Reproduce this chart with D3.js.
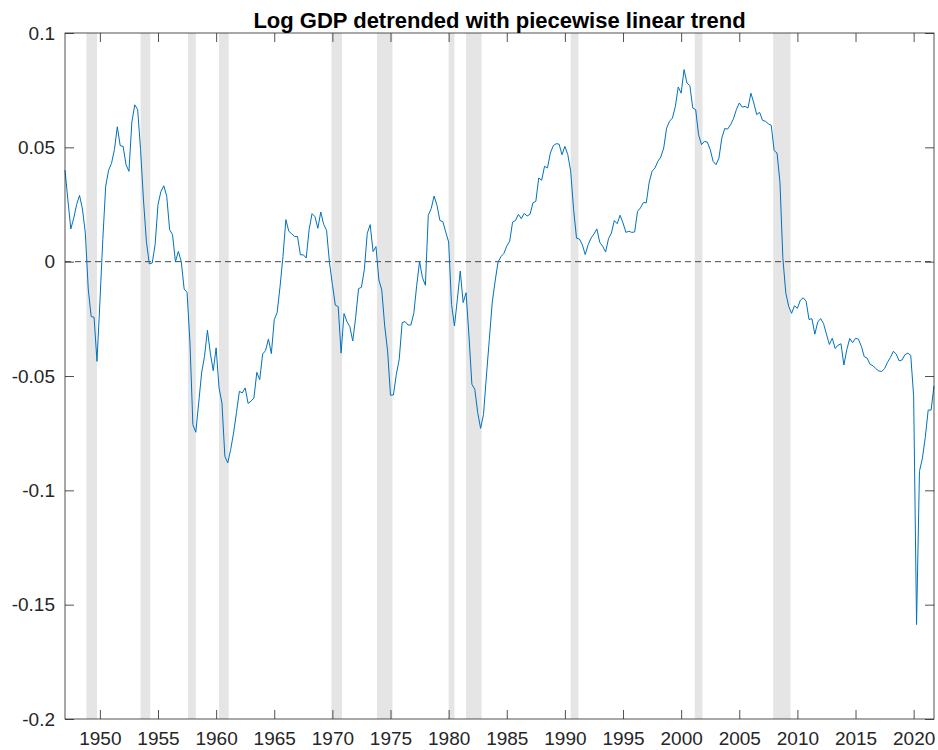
<!DOCTYPE html>
<html>
<head>
<meta charset="utf-8">
<script src="https://cdn.jsdelivr.net/npm/d3@7"></script>
<style>
  html, body { margin: 0; padding: 0; background: #fff; }
  svg { display: block; }
  text { font-family: "Liberation Sans", Arial, Helvetica, sans-serif; }
</style>
</head>
<body>
<svg id="chart" width="938" height="750"></svg>
<script>
// ---------------- DATA ----------------
const chartTitle = "Log GDP detrended with piecewise linear trend";
const startYear = 1947; // first quarter = 1947Q1, quarterly observations

// Detrended log GDP, quarterly, 1947Q1 .. 2021Q4
const gdpDetrended = [
  0.040, 0.027, 0.0143, 0.019,      // 1947
  0.025, 0.029, 0.023, 0.0125,      // 1948
  -0.012, -0.024, -0.0243, -0.0436, // 1949
  -0.018, 0.0096, 0.033, 0.040,     // 1950
  0.043, 0.049, 0.059, 0.0507,      // 1951
  0.0504, 0.0424, 0.0395, 0.061,    // 1952
  0.0686, 0.0665, 0.049, 0.027,     // 1953
  0.0089, -0.001, -0.0006, 0.0074,  // 1954
  0.025, 0.0307, 0.0332, 0.0286,    // 1955
  0.014, 0.0118, 0.0, 0.0045,       // 1956
  0.0, -0.012, -0.0134, -0.0356,    // 1957
  -0.0713, -0.0746, -0.0618, -0.0487, // 1958
  -0.0414, -0.030, -0.040, -0.0477, // 1959
  -0.0377, -0.0552, -0.0618, -0.0851, // 1960
  -0.088, -0.0822, -0.0749, -0.066, // 1961
  -0.0567, -0.0574, -0.0552, -0.062, // 1962
  -0.061, -0.0596, -0.0484, -0.0516, // 1963
  -0.0404, -0.0389, -0.0338, -0.0402, // 1964
  -0.0254, -0.0222, -0.0108, 0.0023, // 1965
  0.0184, 0.0133, 0.0122, 0.011,    // 1966
  0.011, 0.003, 0.003, 0.0016,      // 1967
  0.014, 0.021, 0.0197, 0.0146,     // 1968
  0.0217, 0.0163, 0.0137, -0.0004,  // 1969
  -0.0099, -0.019, -0.0197, -0.040, // 1970
  -0.0227, -0.0262, -0.0284, -0.0347, // 1971
  -0.0245, -0.0118, -0.0112, -0.0034, // 1972
  0.0124, 0.0162, 0.0044, 0.0066,   // 1973
  -0.008, -0.0124, -0.0281, -0.0391, // 1974
  -0.0584, -0.0583, -0.0493, -0.0427, // 1975
  -0.0267, -0.0262, -0.0277, -0.0277, // 1976
  -0.0227, -0.0106, 0.0001, -0.007, // 1977
  -0.0103, 0.0203, 0.0232, 0.0287,  // 1978
  0.0246, 0.018, 0.0175, 0.013,     // 1979
  0.0086, -0.0187, -0.0281, -0.0165, // 1980
  -0.0041, -0.0179, -0.0136, -0.0325, // 1981
  -0.0536, -0.0558, -0.066, -0.0729, // 1982
  -0.0668, -0.05, -0.034, -0.0179,  // 1983
  -0.0085, -0.0001, 0.0022, 0.0036, // 1984
  0.0068, 0.009, 0.0173, 0.018,     // 1985
  0.0207, 0.0188, 0.0211, 0.020,    // 1986
  0.0207, 0.0257, 0.0264, 0.0366,   // 1987
  0.0356, 0.0417, 0.041, 0.0475,    // 1988
  0.0507, 0.0516, 0.0514, 0.0468,   // 1989
  0.0504, 0.0468, 0.0395, 0.0227,   // 1990
  0.0103, 0.0099, 0.0074, 0.0031,   // 1991
  0.0074, 0.0103, 0.0121, 0.0143,   // 1992
  0.0085, 0.0067, 0.0042, 0.010,    // 1993
  0.0125, 0.018, 0.0166, 0.0203,    // 1994
  0.0169, 0.0128, 0.0133, 0.0128,   // 1995
  0.013, 0.022, 0.0235, 0.0259,     // 1996
  0.0257, 0.0347, 0.0395, 0.041,    // 1997
  0.0439, 0.0458, 0.0497, 0.0584,   // 1998
  0.0614, 0.0628, 0.0679, 0.0764,   // 1999
  0.0737, 0.084, 0.0781, 0.077,     // 2000
  0.0672, 0.0665, 0.0555, 0.0512,   // 2001
  0.0526, 0.0523, 0.049, 0.0439,    // 2002
  0.0424, 0.0453, 0.0541, 0.0582,   // 2003
  0.058, 0.0599, 0.0625, 0.0665,    // 2004
  0.0694, 0.0676, 0.0679, 0.0672,   // 2005
  0.0737, 0.0694, 0.0643, 0.0653,   // 2006
  0.0618, 0.0614, 0.0603, 0.0596,   // 2007
  0.0486, 0.0475, 0.0347, 0.0015,   // 2008
  -0.0136, -0.0196, -0.0226, -0.0193, // 2009
  -0.0204, -0.0169, -0.0158, -0.0173, // 2010
  -0.0253, -0.0249, -0.0317, -0.0264, // 2011
  -0.0249, -0.0271, -0.0317, -0.0362, // 2012
  -0.0335, -0.038, -0.0365, -0.0359, // 2013
  -0.0452, -0.0385, -0.0336, -0.0354, // 2014
  -0.0335, -0.0339, -0.037, -0.0415, // 2015
  -0.0422, -0.0449, -0.0455, -0.0468, // 2016
  -0.0478, -0.048, -0.0468, -0.044, // 2017
  -0.0419, -0.0392, -0.0404, -0.0434, // 2018
  -0.043, -0.0407, -0.040, -0.041,  // 2019
  -0.0588, -0.1587, -0.0917, -0.086, // 2020
  -0.0769, -0.0649, -0.0649, -0.0543 // 2021
];

// NBER recessions (peak, trough) as decimal years
const recessionStart = [1948.833, 1953.5, 1957.583, 1960.25, 1969.917, 1973.833, 1980.0, 1981.5, 1990.5, 2001.167, 2007.917];
const recessionEnd   = [1949.75, 1954.333, 1958.25, 1961.083, 1970.833, 1975.167, 1980.5, 1982.833, 1991.167, 2001.833, 2009.417];

const xDomain = [1947, 2021.75];
const yDomain = [-0.2, 0.1];
const xTickValues = [1950, 1955, 1960, 1965, 1970, 1975, 1980, 1985, 1990, 1995, 2000, 2005, 2010, 2015, 2020];
const yTickValues = [-0.2, -0.15, -0.1, -0.05, 0, 0.05, 0.1];
const yTickLabels = ["-0.2", "-0.15", "-0.1", "-0.05", "0", "0.05", "0.1"];

// ---------------- DRAW ----------------
const svg = d3.select("#chart");
const L = 65, R = 934, T = 33, B = 719;
const axisColor = "#262626";

const x = d3.scaleLinear().domain(xDomain).range([L, R]);
const y = d3.scaleLinear().domain(yDomain).range([B, T]);

const series = gdpDetrended.map((v, i) => ({ t: startYear + i / 4, v }));

// recession bands
svg.append("g").selectAll("rect")
  .data(recessionStart.map((s, i) => ({ s, e: recessionEnd[i] })))
  .join("rect")
  .attr("x", d => x(d.s))
  .attr("width", d => x(d.e) - x(d.s))
  .attr("y", y(yDomain[1]))
  .attr("height", y(yDomain[0]) - y(yDomain[1]))
  .attr("fill", "#e5e5e5");

// zero dashed line
svg.append("line")
  .attr("x1", x(xDomain[0])).attr("x2", x(xDomain[1]))
  .attr("y1", y(0)).attr("y2", y(0))
  .attr("stroke", "#333")
  .attr("stroke-width", 0.9)
  .attr("stroke-dasharray", "6,4");

// data line
svg.append("path")
  .datum(series)
  .attr("fill", "none")
  .attr("stroke", "#0072BD")
  .attr("stroke-width", 1)
  .attr("stroke-linejoin", "round")
  .attr("d", d3.line().x(d => x(d.t)).y(d => y(d.v)));

// axes
const tickLen = 9;
function styleAxis(g) {
  g.select(".domain").remove();
  g.selectAll(".tick line").attr("stroke", axisColor).attr("stroke-width", 0.8);
  g.selectAll(".tick text").attr("fill", axisColor).style("font-size", "19px");
}

svg.append("g").attr("transform", `translate(0,${B})`)
  .call(d3.axisBottom(x).tickValues(xTickValues).tickSize(-tickLen).tickPadding(13).tickFormat(d3.format("d")))
  .call(styleAxis);

svg.append("g").attr("transform", `translate(0,${T})`)
  .call(d3.axisTop(x).tickValues(xTickValues).tickSize(-tickLen).tickFormat(""))
  .call(styleAxis);

svg.append("g").attr("transform", `translate(${L},0)`)
  .call(d3.axisLeft(y).tickValues(yTickValues).tickSize(-tickLen).tickPadding(10)
    .tickFormat((d, i) => yTickLabels[i]))
  .call(styleAxis);

svg.append("g").attr("transform", `translate(${R},0)`)
  .call(d3.axisRight(y).tickValues(yTickValues).tickSize(-tickLen).tickFormat(""))
  .call(styleAxis);

svg.selectAll("g text").attr("font-family", null);

// box
svg.append("rect")
  .attr("x", L).attr("y", T).attr("width", R - L).attr("height", B - T)
  .attr("fill", "none").attr("stroke", axisColor).attr("stroke-width", 0.8);

// title
svg.append("text")
  .attr("x", (L + R) / 2).attr("y", 28)
  .attr("text-anchor", "middle")
  .attr("font-weight", "bold")
  .style("font-size", "22px")
  .attr("fill", "#000")
  .text(chartTitle);
</script>
</body>
</html>
